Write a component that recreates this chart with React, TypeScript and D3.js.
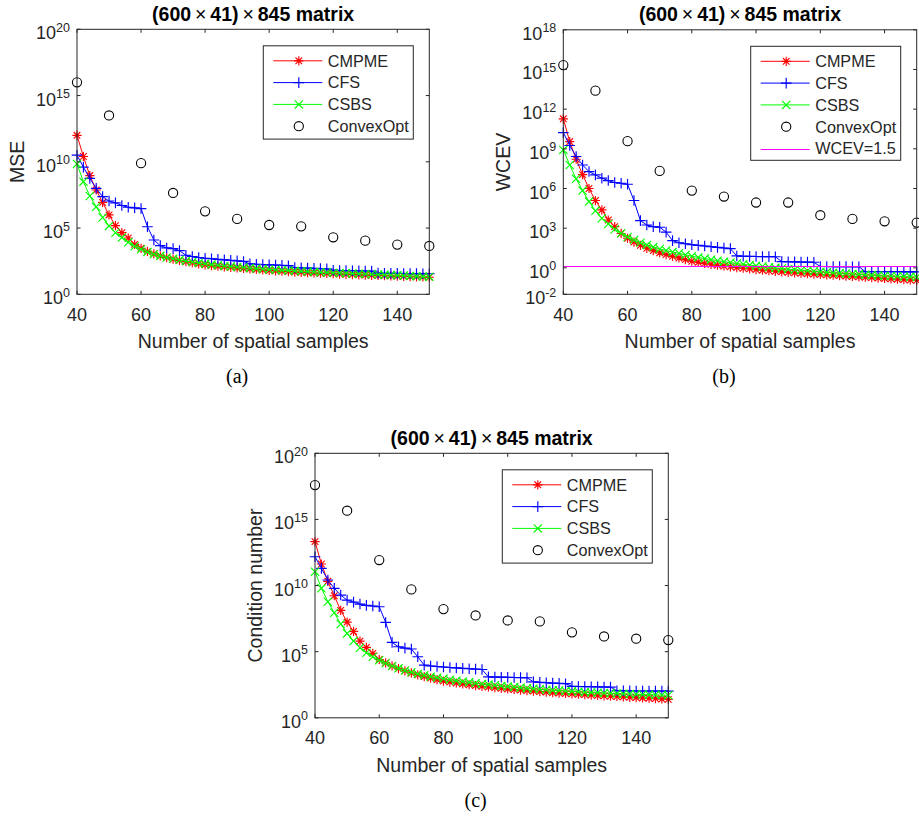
import React from 'react';
import * as d3 from 'd3';

// Number of spatial samples (x values)
const samples = [
  40, 42, 44, 46, 48, 50, 52, 54, 56, 58,
  60, 62, 64, 66, 68, 70, 72, 74, 76, 78,
  80, 82, 84, 86, 88, 90, 92, 94, 96, 98,
  100, 102, 104, 106, 108, 110, 112, 114, 116, 118,
  120, 122, 124, 126, 128, 130, 132, 134, 136, 138,
  140, 142, 144, 146, 148, 150,
];
const convexSamples = [40, 50, 60, 70, 80, 90, 100, 110, 120, 130, 140, 150];

// (a) MSE, log10 values
const mseCMPME = [
  12.0, 10.4, 8.96, 7.87, 6.94, 5.99, 5.18, 4.65, 4.25, 3.77,
  3.47, 3.24, 3.05, 2.9, 2.77, 2.65, 2.55, 2.46, 2.38, 2.3,
  2.22, 2.17, 2.12, 2.07, 2.03, 1.99, 1.95, 1.91, 1.87, 1.84,
  1.8, 1.77, 1.74, 1.71, 1.68, 1.66, 1.63, 1.61, 1.59, 1.57,
  1.55, 1.53, 1.51, 1.49, 1.47, 1.45, 1.43, 1.42, 1.4, 1.39,
  1.37, 1.35, 1.34, 1.32, 1.31, 1.29,
];
const mseCFS = [
  10.5, 9.6, 8.75, 8.0, 7.37, 7.04, 6.9, 6.7, 6.57, 6.52,
  6.47, 5.1, 4.1, 3.67, 3.5, 3.45, 3.3, 2.95, 2.85, 2.78,
  2.72, 2.68, 2.64, 2.6, 2.56, 2.52, 2.48, 2.3, 2.27, 2.24,
  2.22, 2.2, 2.18, 2.16, 2.02, 2.0, 1.98, 1.96, 1.94, 1.92,
  1.82, 1.8, 1.79, 1.78, 1.77, 1.76, 1.75, 1.6, 1.59, 1.58,
  1.58, 1.57, 1.56, 1.56, 1.55, 1.55,
];
const mseCSBS = [
  9.84, 8.5, 7.42, 6.6, 5.8, 5.16, 4.65, 4.28, 3.92, 3.62,
  3.4, 3.2, 3.03, 2.9, 2.78, 2.68, 2.59, 2.51, 2.44, 2.37,
  2.3, 2.24, 2.19, 2.14, 2.1, 2.06, 2.02, 1.98, 1.95, 1.91,
  1.88, 1.85, 1.82, 1.79, 1.77, 1.74, 1.72, 1.69, 1.67, 1.65,
  1.63, 1.61, 1.59, 1.57, 1.55, 1.53, 1.51, 1.49, 1.47, 1.45,
  1.43, 1.41, 1.39, 1.37, 1.35, 1.33,
];
const mseConvex = [16.0, 13.5, 9.9, 7.65, 6.26, 5.69, 5.23, 5.13, 4.3, 4.05, 3.75, 3.65];

// (b) WCEV, log10 values
const wcevCMPME = [
  11.27, 9.55, 8.21, 7.05, 6.0, 5.09, 4.38, 3.62, 3.12, 2.6,
  2.24, 1.95, 1.7, 1.48, 1.3, 1.14, 1.0, 0.87, 0.75, 0.62,
  0.5, 0.42, 0.34, 0.27, 0.2, 0.14, 0.08, 0.02, -0.03, -0.08,
  -0.13, -0.18, -0.22, -0.26, -0.3, -0.34, -0.38, -0.41, -0.44, -0.47,
  -0.5, -0.53, -0.56, -0.59, -0.62, -0.65, -0.68, -0.71, -0.74, -0.77,
  -0.8, -0.83, -0.86, -0.89, -0.92, -0.95,
];
const wcevCFS = [
  10.23, 9.25, 8.42, 7.78, 7.28, 7.03, 6.78, 6.6, 6.45, 6.4,
  6.32, 5.09, 3.57, 3.24, 3.12, 3.07, 2.7, 2.06, 1.9, 1.82,
  1.75, 1.7, 1.65, 1.6, 1.55, 1.5, 1.45, 0.9, 0.88, 0.87,
  0.86, 0.85, 0.85, 0.84, 0.47, 0.46, 0.45, 0.44, 0.43, 0.42,
  0.1, 0.1, 0.09, 0.09, 0.09, 0.08, 0.08, -0.28, -0.28, -0.28,
  -0.29, -0.29, -0.29, -0.3, -0.3, -0.3,
];
const wcevCSBS = [
  8.92, 7.78, 6.73, 5.84, 5.01, 4.31, 3.75, 3.32, 2.92, 2.62,
  2.33, 2.1, 1.9, 1.72, 1.57, 1.43, 1.31, 1.2, 1.1, 0.98,
  0.88, 0.79, 0.7, 0.62, 0.54, 0.47, 0.4, 0.33, 0.27, 0.21,
  0.15, 0.1, 0.05, 0.0, -0.05, -0.1, -0.14, -0.18, -0.22, -0.26,
  -0.3, -0.34, -0.37, -0.4, -0.43, -0.46, -0.49, -0.52, -0.55, -0.58,
  -0.6, -0.62, -0.64, -0.66, -0.68, -0.7,
];
const wcevConvex = [15.33, 13.4, 9.58, 7.33, 5.84, 5.39, 4.94, 4.94, 3.98, 3.7, 3.52, 3.42];
const wcevThreshold = 1.5;

// (c) Condition number, log10 values
const condCMPME = [
  13.32, 11.63, 10.32, 9.23, 8.12, 7.24, 6.53, 5.8, 5.32, 4.87,
  4.41, 4.15, 3.92, 3.72, 3.55, 3.39, 3.25, 3.12, 3.0, 2.88,
  2.77, 2.7, 2.63, 2.56, 2.5, 2.44, 2.38, 2.33, 2.28, 2.23,
  2.18, 2.14, 2.1, 2.06, 2.02, 1.98, 1.94, 1.9, 1.87, 1.84,
  1.81, 1.78, 1.75, 1.72, 1.69, 1.66, 1.63, 1.61, 1.58, 1.55,
  1.53, 1.5, 1.48, 1.45, 1.42, 1.39,
];
const condCFS = [
  12.18, 11.3, 10.42, 9.79, 9.28, 8.9, 8.75, 8.6, 8.5, 8.45,
  8.4, 7.21, 5.7, 5.37, 5.27, 5.2, 4.62, 3.98, 3.92, 3.88,
  3.84, 3.8, 3.77, 3.74, 3.71, 3.68, 3.65, 3.1, 3.08, 3.07,
  3.06, 3.05, 3.04, 3.03, 2.72, 2.68, 2.65, 2.62, 2.6, 2.58,
  2.38, 2.37, 2.36, 2.35, 2.34, 2.33, 2.32, 2.05, 2.04, 2.04,
  2.03, 2.03, 2.03, 2.02, 2.02, 2.02,
];
const condCSBS = [
  11.05, 9.79, 8.78, 7.94, 7.09, 6.38, 5.8, 5.3, 4.92, 4.62,
  4.36, 4.12, 3.92, 3.74, 3.58, 3.44, 3.32, 3.21, 3.11, 3.02,
  2.95, 2.88, 2.81, 2.74, 2.68, 2.62, 2.56, 2.51, 2.46, 2.41,
  2.36, 2.32, 2.28, 2.24, 2.2, 2.16, 2.12, 2.09, 2.06, 2.03,
  2.0, 1.97, 1.94, 1.92, 1.9, 1.88, 1.86, 1.84, 1.82, 1.8,
  1.78, 1.76, 1.75, 1.74, 1.72, 1.71,
];
const condConvex = [17.6, 15.66, 11.93, 9.71, 8.22, 7.74, 7.36, 7.29, 6.46, 6.15, 5.98, 5.88];

const xTicks = [40, 60, 80, 100, 120, 140];
const seriesNames = ['CMPME', 'CFS', 'CSBS', 'ConvexOpt'];
const thresholdName = 'WCEV=1.5';
const xLabel = 'Number of spatial samples';

const FONT = "'Liberation Sans', Arial, Helvetica, sans-serif";
const AX = '#262626';
const RED = '#ff0000';
const BLUE = '#0000ff';
const GREEN = '#00ff00';
const MAGENTA = '#ff00ff';

type Kind = 'star' | 'plus' | 'x' | 'circle';

function Marker({ kind, x, y, color }: { kind: Kind; x: number; y: number; color: string }) {
  let d = '';
  if (kind === 'star') {
    const a = 4.6, b = 3.3;
    d = `M${x - a},${y}H${x + a}M${x},${y - a}V${y + a}M${x - b},${y - b}L${x + b},${y + b}M${x - b},${y + b}L${x + b},${y - b}`;
  } else if (kind === 'plus') {
    const a = 5.3;
    d = `M${x - a},${y}H${x + a}M${x},${y - a}V${y + a}`;
  } else if (kind === 'x') {
    const b = 4.1;
    d = `M${x - b},${y - b}L${x + b},${y + b}M${x - b},${y + b}L${x + b},${y - b}`;
  } else {
    return <circle cx={x} cy={y} r={4.6} fill="none" stroke={color} strokeWidth={1.1} />;
  }
  return <path d={d} fill="none" stroke={color} strokeWidth={1.15} />;
}

type PanelCfg = {
  left: number; top: number; right: number; bottom: number;
  yMin: number; yMax: number; yTicks: number[];
  ylabel: string; caption: string;
  cmpme: number[]; cfs: number[]; csbs: number[]; convex: number[];
  threshold?: number;
};

const panels: PanelCfg[] = [
  { left: 77, top: 29.3, right: 429.3, bottom: 294.3, yMin: 0, yMax: 20, yTicks: [0, 5, 10, 15, 20],
    ylabel: 'MSE', caption: '(a)', cmpme: mseCMPME, cfs: mseCFS, csbs: mseCSBS, convex: mseConvex },
  { left: 563.3, top: 29.8, right: 916.7, bottom: 294.3, yMin: -2, yMax: 18, yTicks: [-2, 0, 3, 6, 9, 12, 15, 18],
    ylabel: 'WCEV', caption: '(b)', cmpme: wcevCMPME, cfs: wcevCFS, csbs: wcevCSBS, convex: wcevConvex, threshold: wcevThreshold },
  { left: 315, top: 453.3, right: 668.3, bottom: 717.8, yMin: 0, yMax: 20, yTicks: [0, 5, 10, 15, 20],
    ylabel: 'Condition number', caption: '(c)', cmpme: condCMPME, cfs: condCFS, csbs: condCSBS, convex: condConvex },
];

function Panel({ p }: { p: PanelCfg }) {
  const x = d3.scaleLinear().domain([40, 150]).range([p.left, p.right]);
  const y = d3.scaleLog().domain([Math.pow(10, p.yMin), Math.pow(10, p.yMax)]).range([p.bottom, p.top]);
  const line = d3.line<[number, number]>().x(d => x(d[0])).y(d => y(Math.pow(10, d[1])));
  const mk = (vals: number[]) => samples.map((s, i) => [s, vals[i]] as [number, number]);
  const cx = (p.left + p.right) / 2;
  const cy = (p.top + p.bottom) / 2;
  const tl = 3.5;

  const lineSeries: { vals: number[]; color: string; kind: Kind }[] = [
    { vals: p.cmpme, color: RED, kind: 'star' },
    { vals: p.cfs, color: BLUE, kind: 'plus' },
    { vals: p.csbs, color: GREEN, kind: 'x' },
  ];

  // legend
  const rows = p.threshold ? 5 : 4;
  const rowH = 21.8;
  const lw = 150;
  const lh = rows === 5 ? 114 : 93.3;
  const lx = p.right - 16 - lw;
  const ly = p.top + 16.5;
  const thrY = p.threshold !== undefined ? Math.round(y(p.threshold)) + 0.5 : 0;
  const legThrY = Math.round(ly + 15 + 4 * rowH) + 0.5;

  return (
    <g>
      <rect x={p.left} y={p.top} width={p.right - p.left} height={p.bottom - p.top} fill="#fff" />
      {lineSeries.map((s, si) => {
        const pts = mk(s.vals);
        return (
          <g key={si}>
            <path d={line(pts) || ''} fill="none" stroke={s.color} strokeWidth={1} />
            {pts.map((d, i) => (
              <Marker key={i} kind={s.kind} x={x(d[0])} y={y(Math.pow(10, d[1]))} color={s.color} />
            ))}
          </g>
        );
      })}
      {convexSamples.map((s, i) => (
        <Marker key={i} kind="circle" x={x(s)} y={y(Math.pow(10, p.convex[i]))} color="#000" />
      ))}
      {p.threshold !== undefined && (
        <line x1={p.left} x2={p.right} y1={thrY} y2={thrY} stroke={MAGENTA} strokeWidth={1.2} />
      )}
      {/* axes box */}
      <rect x={p.left} y={p.top} width={p.right - p.left} height={p.bottom - p.top} fill="none" stroke={AX} strokeWidth={1} />
      {xTicks.map(t => (
        <g key={t}>
          <line x1={x(t)} x2={x(t)} y1={p.bottom} y2={p.bottom - tl} stroke={AX} />
          <line x1={x(t)} x2={x(t)} y1={p.top} y2={p.top + tl} stroke={AX} />
          <text x={x(t)} y={p.bottom + 26.4} textAnchor="middle" fontSize={18} fill={AX} fontFamily={FONT}>{t}</text>
        </g>
      ))}
      {p.yTicks.map(t => {
        const yy = y(Math.pow(10, t));
        return (
          <g key={t}>
            <line x1={p.left} x2={p.left + tl} y1={yy} y2={yy} stroke={AX} />
            <line x1={p.right} x2={p.right - tl} y1={yy} y2={yy} stroke={AX} />
            <text x={p.left - 7} y={yy + 10} textAnchor="end" fontSize={18} fill={AX} fontFamily={FONT}>
              10<tspan dy={-7.5} fontSize={12.5}>{t}</tspan>
            </text>
          </g>
        );
      })}
      {/* labels */}
      <text x={cx} y={p.top - 8.5} textAnchor="middle" fontSize={19.5} fontWeight="bold" fill="#000" fontFamily={FONT}>
        (600<tspan fontWeight="normal">{'\u2009×\u2009'}</tspan>41)<tspan fontWeight="normal">{'\u2009×\u2009'}</tspan>845 matrix
      </text>
      <text x={cx} y={p.bottom + 54} textAnchor="middle" fontSize={19.5} fill={AX} fontFamily={FONT}>{xLabel}</text>
      <text transform={`translate(${p.left - 53.5},${cy}) rotate(-90)`} textAnchor="middle" fontSize={19.5} fill={AX} fontFamily={FONT}>{p.ylabel}</text>
      <text x={cx - 16} y={p.bottom + 89} textAnchor="middle" fontSize={20} fill="#000" fontFamily="'Liberation Serif', 'Times New Roman', serif">{p.caption}</text>
      {/* legend */}
      <g>
        <rect x={lx} y={ly} width={lw} height={lh} fill="#fff" stroke={AX} strokeWidth={1} />
        {seriesNames.map((name, i) => {
          const ry = ly + 15 + i * rowH;
          const kinds: Kind[] = ['star', 'plus', 'x', 'circle'];
          const colors = [RED, BLUE, GREEN, '#000'];
          return (
            <g key={name}>
              {i < 3 && <line x1={lx + 10} x2={lx + 59} y1={ry} y2={ry} stroke={colors[i]} strokeWidth={1} />}
              <Marker kind={kinds[i]} x={lx + 35.5} y={ry} color={colors[i]} />
              <text x={lx + 64.5} y={ry + 5.8} fontSize={16.2} fill={AX} fontFamily={FONT}>{name}</text>
            </g>
          );
        })}
        {p.threshold !== undefined && (
          <g>
            <line x1={lx + 10} x2={lx + 59} y1={legThrY} y2={legThrY} stroke={MAGENTA} strokeWidth={1.2} />
            <text x={lx + 64.5} y={ly + 15 + 4 * rowH + 5.8} fontSize={16.2} fill={AX} fontFamily={FONT}>{thresholdName}</text>
          </g>
        )}
      </g>
    </g>
  );
}

export default function App() {
  return (
    <svg width={919} height={816} style={{ position: 'absolute', left: 0, top: 0, background: '#fff' }}>
      <rect x={0} y={0} width={919} height={816} fill="#fff" />
      {panels.map((p, i) => <Panel key={i} p={p} />)}
    </svg>
  );
}
